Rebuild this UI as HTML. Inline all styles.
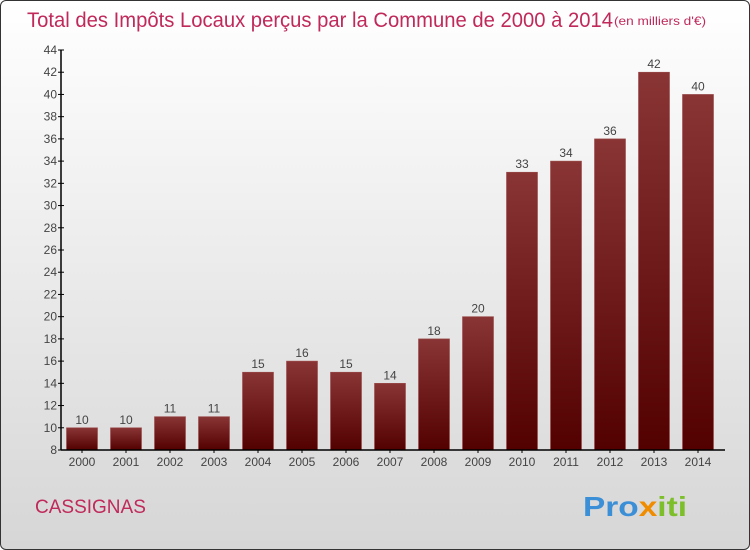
<!DOCTYPE html>
<html><head><meta charset="utf-8"><style>
html,body{margin:0;padding:0}
body{width:750px;height:550px;overflow:hidden;font-family:"Liberation Sans",sans-serif}
#frame{position:absolute;left:0;top:0;width:748px;height:548px;border:1px solid #333;border-radius:6px;background:linear-gradient(#ffffff,#d6d6d6)}
</style></head><body>
<div id="frame">
<svg width="750" height="550" style="position:absolute;left:-1px;top:-1px">
<defs><linearGradient id="bg" x1="0" y1="0" x2="0" y2="1"><stop offset="0" stop-color="#8a3535"/><stop offset="1" stop-color="#530000"/></linearGradient></defs>
<text x="27" y="27" font-size="21" fill="#c0295a" textLength="586" lengthAdjust="spacingAndGlyphs">Total des Impôts Locaux perçus par la Commune de 2000 à 2014</text>
<text x="614" y="25" font-size="12" fill="#c0295a" textLength="92" lengthAdjust="spacingAndGlyphs">(en milliers d'€)</text>
<g id="bars"></g><g id="axes"></g>
<text x="35" y="513" font-size="19" fill="#c0295a">CASSIGNAS</text>
<text x="583" y="516" font-size="28" font-weight="bold" textLength="104" lengthAdjust="spacingAndGlyphs"><tspan fill="#3b8fd6">Pro</tspan><tspan fill="#f08c00">x</tspan><tspan fill="#7cbf2a">iti</tspan></text>
</svg></div>
<script>
const years=["2000","2001","2002","2003","2004","2005","2006","2007","2008","2009","2010","2011","2012","2013","2014"];
const values=[10,10,11,11,15,16,15,14,18,20,33,34,36,42,40];
const yTicks=[8,10,12,14,16,18,20,22,24,26,28,30,32,34,36,38,40,42,44];
const NS="http://www.w3.org/2000/svg";
const y=v=>450-(v-8)*400/36;
const x=i=>82+i*44;
function mk(t,a,p,txt){const e=document.createElementNS(NS,t);for(const k in a)e.setAttribute(k,a[k]);if(txt!==undefined)e.textContent=txt;p.appendChild(e);return e;}
const bars=document.getElementById('bars'),axes=document.getElementById('axes');
values.forEach((v,i)=>{
 const r=mk('rect',{x:x(i)-15.5,y:y(v),width:31,height:450-y(v),fill:'url(#bg)',stroke:'#9a4a4a','stroke-width':0.6},bars);
 
 
 const l=mk('text',{x:x(i),y:y(v)-4,'font-size':12,fill:'#444','text-anchor':'middle'},bars,v);
 
 
 const xl=mk('text',{x:x(i),y:466,'font-size':12,fill:'#444','text-anchor':'middle'},axes,years[i]);
 
 
 mk('line',{x1:x(i),x2:x(i),y1:450,y2:453,stroke:'#000'},axes);
});
yTicks.forEach(t=>{
 mk('line',{x1:58,x2:64,y1:y(t),y2:y(t),stroke:'#000'},axes);
 const tl=mk('text',{x:57,y:y(t)+4,'font-size':12,fill:'#444','text-anchor':'end'},axes,t);
 
 
});
const ya=mk('line',{x1:61,x2:61,y1:50,y2:450,stroke:'#000','stroke-width':1.5},axes);


const xa=mk('line',{x1:61,x2:725,y1:450,y2:450,stroke:'#000','stroke-width':1.5},axes);


</script>
</body></html>
